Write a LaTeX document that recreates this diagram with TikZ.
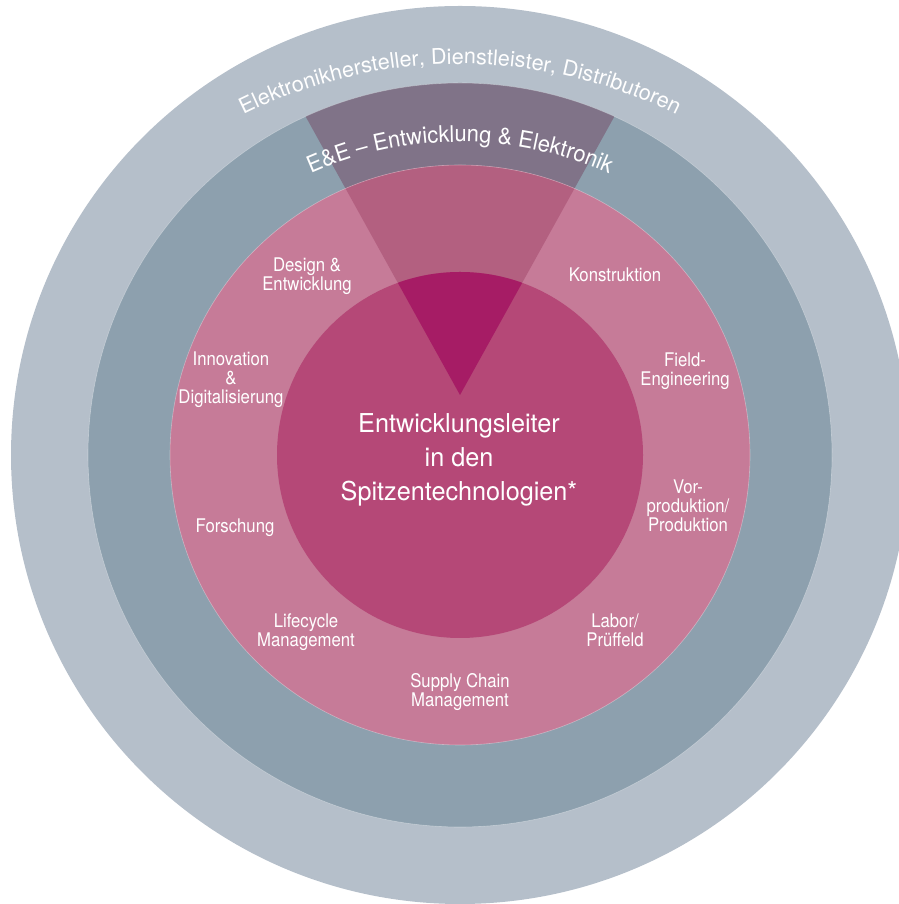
\documentclass[tikz,border=0pt]{standalone}
\usepackage{fontspec}
\setmainfont{TeX Gyre Heros}
\newfontfamily\condfont{TeX Gyre Heros}[FakeStretch=0.89]
\newfontfamily\centerfont{TeX Gyre Heros}[FakeStretch=0.97]
\newfontfamily\eefont{TeX Gyre Heros}[FakeStretch=0.95]
\usetikzlibrary{decorations.text,calc}
\definecolor{ringA}{HTML}{B5BFCA}
\definecolor{ringB}{HTML}{8DA0AE}
\definecolor{ringC}{HTML}{C67B98}
\definecolor{ringD}{HTML}{B54877}
\definecolor{wedgeB}{HTML}{807388}
\definecolor{wedgeC}{HTML}{B36080}
\definecolor{wedgeD}{HTML}{A61C65}
\begin{document}
\begin{tikzpicture}[x=1pt,y=1pt,
  lbl/.style={font=\condfont\fontsize{18.8}{19}\selectfont, text=white, align=center, inner sep=0pt, anchor=north},
  edge/.style={draw=white, draw opacity=0.35, line width=0.6pt}]
\useasboundingbox (0,0) rectangle (898,904);
\coordinate (C) at (460,449);
\coordinate (A) at (460,509);
% rings
\fill[ringA] (C) circle[radius=449pt];
\fill[ringB] (C) circle[radius=372pt];
\begin{scope}
  \clip (C) circle[radius=372pt];
  \fill[wedgeB] (A) -- +(119:560pt) -- +(61:560pt) -- cycle;
\end{scope}
\path[edge] (C) circle[radius=372pt];
\fill[ringC] (C) circle[radius=290pt];
\begin{scope}
  \clip (C) circle[radius=290pt];
  \fill[wedgeC] (A) -- +(119:560pt) -- +(61:560pt) -- cycle;
\end{scope}
\path[edge] (C) circle[radius=290pt];
\fill[ringD] (C) circle[radius=183pt];
\begin{scope}
  \clip (C) circle[radius=183pt];
  \fill[wedgeD] (A) -- +(119:560pt) -- +(61:560pt) -- cycle;
\end{scope}
% curved texts
\coordinate (T1) at (460,355);
\path[decorate, decoration={text along path, text color=white, text align=center,
  text={|\fontsize{21.6}{24}\selectfont|Elektronikhersteller, Dienstleister, Distributoren}}]
  ($(T1)+(140:485pt)$) arc[start angle=140, end angle=40, radius=485pt];
\coordinate (T2) at (460,395);
\path[decorate, decoration={text along path, text color=white, text align=center,
  text={|\eefont\fontsize{23}{26}\selectfont|E{\&}E – Entwicklung {\&} Elektronik}}]
  ($(T2)+(140:367pt)$) arc[start angle=140, end angle=40, radius=367pt];
% centre
\node[font=\centerfont\fontsize{26}{34}\selectfont, text=white, align=center, inner sep=0pt, anchor=north]
  (core) at (459,490.7) {Entwicklungsleiter\\in den\\Spitzentechnologien*};
% labels
\node[lbl] (design) at (307,646) {Design \&\\Entwicklung};
\node[lbl] (konstr) at (615,636) {Konstruktion};
\node[lbl] (innov) at (231,552) {Innovation\\\&\\Digitalisierung};
\node[lbl] (field) at (685,551) {Field-\\Engineering};
\node[lbl] (forsch) at (235,385) {Forschung};
\node[lbl] (vorprod) at (688,424) {Vor-\\produktion/\\Produktion};
\node[lbl] (life) at (306,290) {Lifecycle\\Management};
\node[lbl] (labor) at (615,290) {Labor/\\Prüffeld};
\node[lbl] (supply) at (460,231) {Supply Chain\\Management};
\end{tikzpicture}
\end{document}
